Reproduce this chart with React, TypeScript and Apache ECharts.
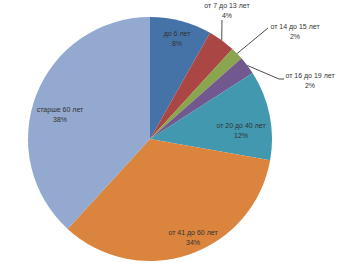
import React, { useEffect, useRef } from "react";
import * as echarts from "echarts";

const categories = [
  "до 6 лет",
  "от 7 до 13 лет",
  "от 14 до 15 лет",
  "от 16 до 19 лет",
  "от 20 до 40 лет",
  "от 41 до 60 лет",
  "старше 60 лет",
];
const values = [8.2, 3.6, 1.7, 2.4, 11.9, 34.0, 38.2];
const colors = ["#4572A7", "#AA4643", "#89A54E", "#71588F", "#4198AF", "#DB843D", "#93A9CF"];

// label placement (layout, px) and whether a leader line is drawn
const labelPos: [number, number][] = [
  [177, 38.5],
  [227, 10],
  [295, 31.5],
  [310, 80],
  [241, 130],
  [193, 237],
  [60, 114],
];
const outside = [false, true, true, true, false, false, false];

export default function App() {
  const ref = useRef<HTMLDivElement>(null);
  useEffect(() => {
    document.body.style.margin = "0";
    const chart = echarts.init(ref.current!, null, { renderer: "svg" });
    const lineEnds: Record<number, [number, number][]> = {
      1: [[222, 20]],
      2: [[268, 28]],
      3: [[279, 79], [284, 79]],
    };
    chart.setOption({
      animation: false,
      backgroundColor: "#ffffff",
      series: [
        {
          type: "pie",
          center: [150, 139],
          radius: 122,
          startAngle: 90,
          clockwise: true,
          avoidLabelOverlap: false,
          itemStyle: { borderWidth: 0 },
          label: {
            show: true,
            formatter: (p: any) => `${p.name}\n${Math.round(p.percent)}%`,
            fontFamily: "'Liberation Sans', Arial, sans-serif",
            fontSize: 7,
            lineHeight: 10,
            color: "#333333",
            align: "center",
          },
          labelLine: { show: true, lineStyle: { color: "#4d4d4d", width: 1 }, length: 10, length2: 10 },
          labelLayout: (params: any) => {
            const i = params.dataIndex;
            const [x, y] = labelPos[i];
            const res: any = { x, y, align: "center", verticalAlign: "middle" };
            if (outside[i] && params.labelLinePoints) {
              const start = params.labelLinePoints[0];
              res.labelLinePoints = [start, ...lineEnds[i]];
            }
            return res;
          },
          data: categories.map((name, i) => ({
            name,
            value: values[i],
            itemStyle: { color: colors[i] },
            label: { position: outside[i] ? "outside" : "inside" },
            labelLine: { show: outside[i] },
          })),
        },
      ],
    });
    return () => chart.dispose();
  }, []);
  return <div ref={ref} style={{ width: 351, height: 270 }} />;
}
